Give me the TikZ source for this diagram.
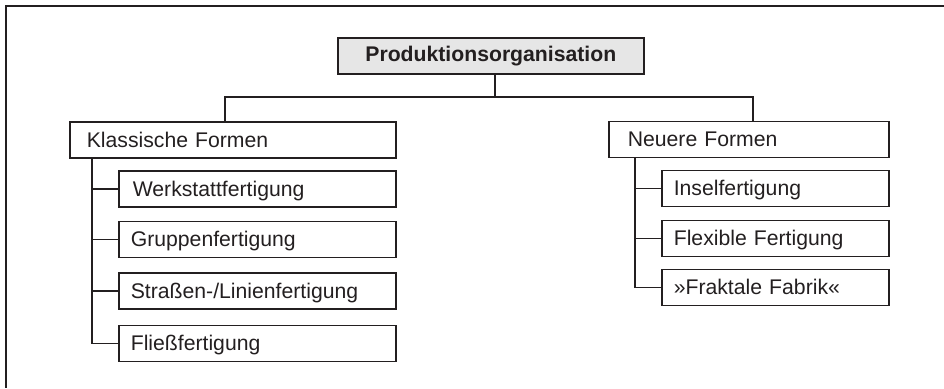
\documentclass[tikz,border=0pt]{standalone}
\usepackage{fontspec}
\setmainfont{Liberation Sans}
\usepackage{xcolor}
\usepackage{tikz}
\definecolor{ink}{HTML}{231F20}
\definecolor{topfill}{HTML}{E6E6E6}

\begin{document}
\begin{tikzpicture}[x=1pt, y=-1pt,
	box/.style={draw=ink, line width=1.6pt, text=ink, anchor=north west, inner ysep=0pt,
		minimum height=36pt, text height=15pt, text depth=0pt,
		font=\fontsize{21.2}{25}\selectfont},
	subbox/.style={box, inner xsep=12pt, align=left},
	link/.style={draw=ink, line width=1.6pt}]
	\useasboundingbox (0,0) rectangle (944,388);
	\draw[link] (944,6) -- (6,6) -- (6,388);
	\node[box, fill=topfill, minimum width=306pt, inner xsep=0pt, text height=12pt, font=\fontsize{21.2}{25}\selectfont\bfseries] (prod) at (337,37) {Produktionsorganisation};
	\node[subbox, inner xsep=17pt, text width=292pt] (klass) at (69,121) {Klassische Formen};
	\node[subbox, inner xsep=19pt, text width=242pt] (neu) at (608,120.5) {Neuere Formen};
	\node[subbox, inner xsep=14pt, text width=249pt] (werk) at (118,170) {Werkstattfertigung};
	\node[subbox, text width=253pt] (grupp) at (118,220.5) {Gruppenfertigung};
	\node[subbox, text width=253pt] (strasse) at (118,272) {Straßen-/Linienfertigung};
	\node[subbox, text width=253pt] (fliess) at (118,324.5) {Fließfertigung};
	\node[subbox, text width=203pt] (insel) at (661,169.5) {Inselfertigung};
	\node[subbox, text width=203pt] (flex) at (661,219.5) {Flexible Fertigung};
	\node[subbox, text width=203pt] (frakt) at (661,268.5) {»Fraktale Fabrik«};
	\coordinate (bus) at (495,97);
	\coordinate (kl) at (225,97);
	\coordinate (nr) at (753,97);
	\coordinate (ks) at (92,0);
	\coordinate (ns) at (635,0);
	\draw[link] (prod.south -| bus) -- (bus);
	\draw[link] (kl |- klass.north) -- (kl) -- (nr) -- (nr |- neu.north);
	\draw[link] (ks |- klass.south) |- (fliess.west);
	\draw[link] (ks |- werk.west) -- (werk.west);
	\draw[link] (ks |- grupp.west) -- (grupp.west);
	\draw[link] (ks |- strasse.west) -- (strasse.west);
	\draw[link] (ns |- neu.south) |- (frakt.west);
	\draw[link] (ns |- insel.west) -- (insel.west);
	\draw[link] (ns |- flex.west) -- (flex.west);
\end{tikzpicture}
\end{document}
